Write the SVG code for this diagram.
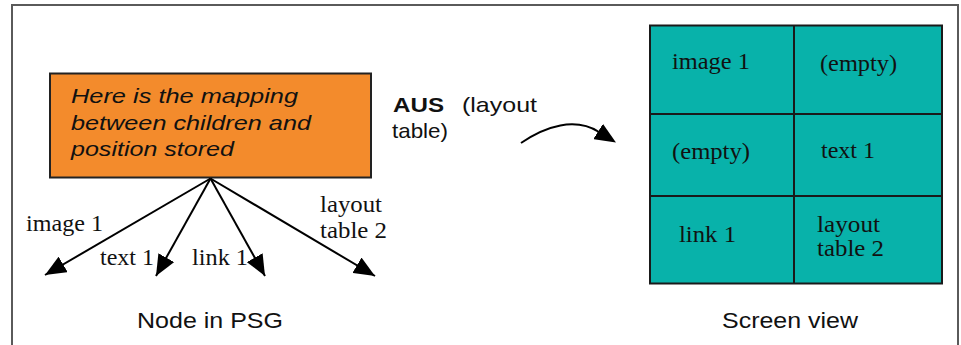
<svg xmlns="http://www.w3.org/2000/svg" width="961" height="345" viewBox="0 0 961 345">
<style>
.frame{fill:none;stroke:#5a5a5a;stroke-width:2}
.box{fill:#F38B2C;stroke:#222;stroke-width:2}
.cell{fill:#08B2AA;stroke:#1a1a1a;stroke-width:2}
.grid{stroke:#1a1a1a;stroke-width:2}
.conn{fill:none;stroke:#000;stroke-width:2}
.it{font-family:"Liberation Sans",Arial,sans-serif;font-style:italic;font-size:21px;fill:#111}
.sans{font-family:"Liberation Sans",Arial,sans-serif;font-size:21px;fill:#111}
.bold{font-weight:bold}
.cap{font-family:"Liberation Sans",Arial,sans-serif;font-size:22px;fill:#111}
.serif{font-family:"Liberation Serif","Times New Roman",serif;font-size:23px;fill:#111}
</style>
<defs>
<marker id="ah" markerUnits="userSpaceOnUse" markerWidth="21" markerHeight="18" refX="21" refY="9" orient="auto" viewBox="0 0 21 18">
<path d="M0,0 L21,9 L0,18 z" fill="#000"/>
</marker>
<marker id="ah2" markerUnits="userSpaceOnUse" markerWidth="21" markerHeight="18" refX="1" refY="9" orient="auto" viewBox="0 0 21 18">
<path d="M0,0 L21,9 L0,18 z" fill="#000"/>
</marker>
</defs>
<rect width="961" height="345" fill="#fff"/>
<path class="frame" d="M12,346 L12,5 L958,5 L958,346"/>

<g id="psg-node">
<rect class="box" x="50" y="73.5" width="321" height="104"/>
<text class="it" x="71" y="103" textLength="227" lengthAdjust="spacingAndGlyphs">Here is the mapping</text>
<text class="it" x="71" y="129.5" textLength="240" lengthAdjust="spacingAndGlyphs">between children and</text>
<text class="it" x="71" y="155.5" textLength="163" lengthAdjust="spacingAndGlyphs">position stored</text>
</g>

<g id="connectors">
<line class="conn" x1="210.5" y1="178.5" x2="45" y2="275" marker-end="url(#ah)"/>
<line class="conn" x1="210.5" y1="178.5" x2="156" y2="276" marker-end="url(#ah)"/>
<line class="conn" x1="210.5" y1="178.5" x2="265" y2="276" marker-end="url(#ah)"/>
<line class="conn" x1="210.5" y1="178.5" x2="375" y2="276" marker-end="url(#ah)"/>
<path class="conn" d="M521,143 C546,126 575,117 599,132" marker-end="url(#ah2)"/>
</g>

<g id="child-labels">
<text class="serif" x="26" y="231" textLength="77" lengthAdjust="spacingAndGlyphs">image 1</text>
<text class="serif" x="100" y="265" textLength="54" lengthAdjust="spacingAndGlyphs">text 1</text>
<text class="serif" x="192" y="265" textLength="56" lengthAdjust="spacingAndGlyphs">link 1</text>
<text class="serif" x="320" y="212" textLength="62" lengthAdjust="spacingAndGlyphs">layout</text>
<text class="serif" x="320" y="238" textLength="67" lengthAdjust="spacingAndGlyphs">table 2</text>
</g>

<g id="aus-label">
<text class="sans bold" x="393" y="112" textLength="51" lengthAdjust="spacingAndGlyphs">AUS</text>
<text class="sans" x="462" y="112" textLength="75" lengthAdjust="spacingAndGlyphs">(layout</text>
<text class="sans" x="392" y="138" textLength="56" lengthAdjust="spacingAndGlyphs">table)</text>
</g>

<g id="screen-table">
<rect class="cell" x="650" y="25.5" width="292" height="258"/>
<line class="grid" x1="794" y1="25.5" x2="794" y2="283.5"/>
<line class="grid" x1="650" y1="114" x2="942" y2="114"/>
<line class="grid" x1="650" y1="196" x2="942" y2="196"/>
<text class="serif" x="672" y="69" textLength="78" lengthAdjust="spacingAndGlyphs">image 1</text>
<text class="serif" x="820" y="71" textLength="77" lengthAdjust="spacingAndGlyphs">(empty)</text>
<text class="serif" x="672" y="159" textLength="78" lengthAdjust="spacingAndGlyphs">(empty)</text>
<text class="serif" x="821" y="158" textLength="54" lengthAdjust="spacingAndGlyphs">text 1</text>
<text class="serif" x="679" y="242" textLength="57" lengthAdjust="spacingAndGlyphs">link 1</text>
<text class="serif" x="817" y="232" textLength="63" lengthAdjust="spacingAndGlyphs">layout</text>
<text class="serif" x="817" y="256" textLength="67" lengthAdjust="spacingAndGlyphs">table 2</text>
</g>

<g id="captions">
<text class="cap" x="137" y="328" textLength="146" lengthAdjust="spacingAndGlyphs">Node in PSG</text>
<text class="cap" x="722" y="328" textLength="136" lengthAdjust="spacingAndGlyphs">Screen view</text>
</g>
</svg>
